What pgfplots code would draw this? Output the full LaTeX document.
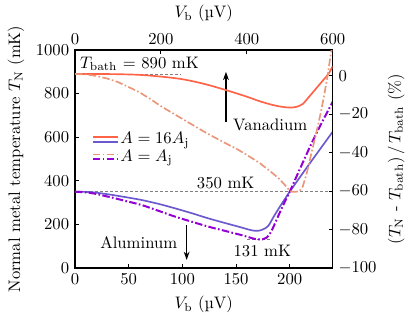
\documentclass[border=0pt]{standalone}
\usepackage{pgfplots}
\pgfplotsset{compat=1.18}
\usetikzlibrary{arrows.meta}

\definecolor{tomato}{RGB}{255,99,71}
\definecolor{darksalmon}{RGB}{233,150,122}
\definecolor{slateblue}{RGB}{106,90,205}
\definecolor{darkviolet}{RGB}{148,0,211}

\tikzset{
  dashdot/.style={dash pattern=on 4.5pt off 1.4pt on 1pt off 1.4pt},
  refline/.style={gray, line width=0.4pt, dash pattern=on 2pt off 1pt},
}
\pgfplotsset{
  every axis/.append style={
    scale only axis,
    width=154.6pt, height=130.8pt,
    axis line style={line width=0.9pt},
    tick align=inside,
    major tick length=2.5pt,
    every tick/.style={black, line width=0.6pt},
    /pgf/number format/set thousands separator={},
  },
}

\begin{document}
\begin{tikzpicture}
\useasboundingbox (-45pt,-35.4pt) rectangle (200.4pt,160.8pt);

% aluminum, bottom axis (0-240 uV), temperature on the left
\begin{axis}[
  at={(0,0)}, anchor=south west,
  xmin=0, xmax=240, ymin=0, ymax=1000,
  xtick={0,50,100,150,200},
  ytick={0,200,400,600,800,1000},
  xtick pos=left, ytick pos=left,
  xlabel={$V_\mathrm{b}$ (\textmu V)},
  ylabel={Normal metal temperature $T_\mathrm{N}$ (mK)},
  legend cell align=left,
  legend style={at={(axis description cs:0.045,0.55)}, anchor=west,
    draw=none, fill=none, row sep=0pt, nodes={inner sep=1pt}},
]
\addlegendimage{draw=tomato, legend image code/.code={
  \draw[draw=tomato, solid, line width=1.1pt] (0pt,1.3pt) -- (15pt,1.3pt);
  \draw[draw=slateblue, solid, line width=1.1pt] (0pt,-1.3pt) -- (15pt,-1.3pt);}}
\addlegendentry{$A = 16A_\mathrm{j}$}
\addlegendimage{draw=darkviolet, legend image code/.code={
  \draw[draw=darksalmon, line width=1.1pt, dashdot] (0pt,1.3pt) -- (15pt,1.3pt);
  \draw[draw=darkviolet, line width=1.1pt, dashdot] (0pt,-1.3pt) -- (15pt,-1.3pt);}}
\addlegendentry{$A = A_\mathrm{j}$}

\addplot[refline, forget plot] coordinates {(0,890) (99,890)};
\addplot[refline, forget plot] coordinates {(0,350) (240,350)};
\addplot[refline, forget plot] coordinates {(160,131) (182,131)};

% A = 16 Aj
\addplot[slateblue, line width=1pt, smooth, forget plot] coordinates {
  (0,350) (15,348) (31,338) (46,326) (62,312) (78,294) (93,274) (109,251)
  (124,228) (140,206) (155,186) (162,176) (167,171) (171,171) (175,177)
  (180,193) (185,235) (190,275) (195,313) (200,350) (210,420) (220,489)
  (230,557) (240,625)
};
% A = Aj
\addplot[darkviolet, line width=1.2pt, dashdot, smooth, forget plot] coordinates {
  (0,350) (15,344) (31,327) (46,309) (62,289) (78,262) (93,236) (109,212)
  (124,190) (140,170) (155,151) (162,141) (167,134) (171,131) (175,132)
  (178,138) (181,153) (184,180) (188,224) (192,268) (196,310) (200,350)
  (210,460) (220,568) (230,668) (240,762)
};

\node[anchor=base west, inner sep=0pt] at (axis cs:4.5,916) {$T_\mathrm{bath}$ = 890 mK};
\node[anchor=base west, inner sep=0pt] at (axis cs:147,630) {Vanadium};
\node[anchor=base west, inner sep=0pt] at (axis cs:23.3,90) {Aluminum};
\node[anchor=base west, inner sep=0pt] at (axis cs:113.3,365) {350 mK};
\node[anchor=base west, inner sep=0pt] at (axis cs:147.4,55) {131 mK};
\draw[-{Stealth[length=5pt,width=3.5pt]}, line width=0.7pt] (axis cs:140.6,670) -- (axis cs:140.6,900);
\draw[-{Stealth[length=5pt,width=3.5pt]}, line width=0.7pt] (axis cs:104,197) -- (axis cs:104,37);
\end{axis}

% vanadium, top axis (0-600 uV), relative change on the right
\begin{axis}[
  at={(0,0)}, anchor=south west,
  xmin=0, xmax=600, ymin=0, ymax=1000,
  axis x line*=top, axis y line*=right,
  xtick={0,200,400,600},
  ytick={0,176.4,352.8,529.2,705.6,882},
  yticklabels={$-100$,$-80$,$-60$,$-40$,$-20$,$0$},
  xlabel={$V_\mathrm{b}$ (\textmu V)},
  ylabel={$(T_\mathrm{N}$ - $T_\mathrm{bath})\,/\,T_\mathrm{bath}$ (\%)},
]
% A = 16 Aj
\addplot[tomato, line width=1pt, smooth] coordinates {
  (0,890) (50,890) (100,889) (150,886) (200,878) (250,866) (300,845)
  (350,817) (400,786) (430,765) (460,748) (480,740) (500,736) (515,739)
  (530,752) (547,790) (560,820) (578,862) (590,890) (600,925)
};
% A = Aj
\addplot[darksalmon, line width=1pt, dashdot] coordinates {
  (0,890) (25,888) (50,881) (75,869) (100,853) (125,830) (150,806)
  (175,776) (198,745) (225,713) (250,684) (275,655) (300,626) (325,599)
  (353,570) (375,548) (400,519) (431,480) (454,445) (475,410) (490,378)
  (500,355) (505,350) (515,350) (522,352) (530,372) (539,430) (551,530)
  (563,630) (572,710) (580,790) (588,880) (594,960) (600,1030)
};
\end{axis}
\end{tikzpicture}
\end{document}
